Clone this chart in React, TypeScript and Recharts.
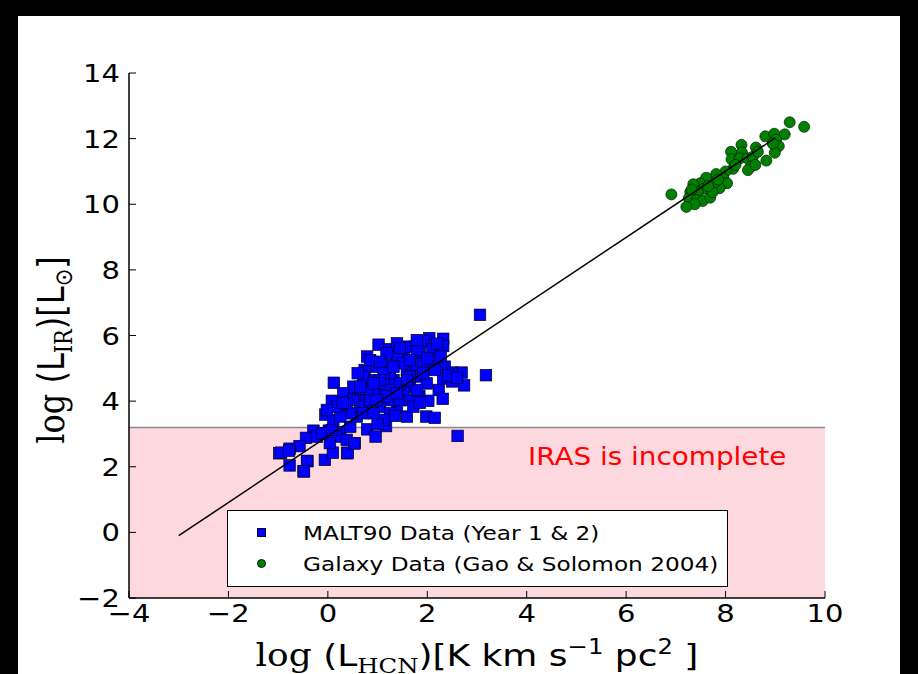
import React from "react";
import {
  ComposedChart,
  Scatter,
  XAxis,
  YAxis,
  ReferenceArea,
  ReferenceLine,
} from "recharts";

// ---------- data ----------
const xTicks = [-4, -2, 0, 2, 4, 6, 8, 10];
const yTicks = [-2, 0, 2, 4, 6, 8, 10, 12, 14];
const irasLimit = 3.2;

const malt90: [number, number][] = [
  [3.06, 6.63], [3.18, 4.79], [2.61, 2.94], [0.12, 4.56], [0.79, 5.36], [1.02, 5.72],
  [1.23, 5.58], [2.04, 5.92], [2.32, 5.9], [2.32, 5.68], [1.92, 5.82], [1.75, 5.66],
  [1.53, 5.48], [2.1, 5.58], [2.11, 5.29], [2.35, 5.05], [2.27, 5.36], [2.69, 4.87],
  [2.5, 4.87], [2.32, 4.69], [2.5, 4.6], [2.74, 4.48], [2.23, 4.34], [2.31, 4.07],
  [1.98, 3.53], [2.15, 3.49], [2.02, 4.01], [1.84, 4.16], [0.74, 4.95], [0.85, 4.64],
  [0.45, 4.22], [0.08, 4.01], [-0.05, 3.59], [0.38, 4.14], [-0.29, 3.1], [-0.44, 2.88],
  [-0.57, 2.63], [-0.77, 2.55], [-0.98, 2.41], [-0.77, 2.04], [-0.49, 1.86], [-0.41, 2.17],
  [-0.06, 2.21], [0.1, 2.43], [0.39, 2.41], [0.54, 2.72], [0.79, 3.14], [0.96, 2.92],
  [1.17, 3.24], [1.39, 3.81], [1.59, 3.53], [1.2, 5.09], [1.39, 5.17], [1.59, 4.95],
  [1.79, 5.09], [1.79, 4.75], [1.99, 4.54], [1.65, 4.42], [1.25, 4.03], [1.05, 4.34],
  [0.65, 4.07], [0.31, 3.73], [0.11, 3.43], [0.02, 3.1], [0.25, 3.06], [0.45, 3.22],
  [0.58, 3.53], [-0.22, 2.92], [-0.09, 3.02], [0.18, 2.92], [0.38, 2.82], [0.04, 2.72],
  [1.32, 4.64], [1.12, 4.54], [1.52, 4.24], [1.39, 5.76], [1.59, 5.66], [1.85, 5.46],
  [1.92, 5.15], [1.39, 5.36], [0.98, 5.05], [0.85, 5.25], [0.71, 4.75], [0.92, 4.24],
  [0.78, 3.93], [1.05, 3.83], [1.25, 3.63], [1.12, 3.43], [1.45, 4.03], [1.65, 4.03],
  [1.72, 3.83], [0.65, 3.83], [0.45, 3.63], [0.25, 3.53], [0.51, 4.44], [0.31, 4.24],
  [0.18, 3.83], [-0.02, 3.73], [0.78, 4.34], [1.25, 4.34], [1.45, 4.54], [1.79, 4.34],
  [1.92, 4.85], [1.65, 4.75], [1.52, 5.15], [1.25, 4.85], [1.12, 4.85], [1.05, 4.64],
  [0.92, 4.54], [0.85, 4.03], [1.18, 4.14], [0.98, 4.03], [0.65, 4.44], [0.51, 4.03],
  [0.38, 3.93], [0.71, 3.63], [0.92, 3.63], [1.39, 4.24], [1.59, 4.64], [1.79, 5.56],
  [1.65, 5.25], [1.18, 5.46], [1.32, 5.05], [1.79, 5.86], [-0.94, 2.43], [-0.78, 2.49],
  [-0.12, 3.02], [0.08, 3.12], [0.4, 2.43], [0.53, 2.71], [-0.42, 2.18], [-0.48, 1.86],
  [2.42, 4.78], [2.6, 4.72], [2.15, 4.95], [2.0, 5.3], [1.45, 5.62], [1.05, 5.2],
  [0.6, 4.85], [0.3, 3.95], [1.0, 3.3], [1.35, 3.55], [1.85, 3.95], [2.2, 5.75],
];

const galaxies: [number, number][] = [
  [9.29, 12.5], [9.58, 12.36], [8.8, 12.07], [8.98, 12.15], [9.19, 12.13], [9.02, 11.97],
  [9.07, 11.77], [8.99, 11.57], [8.82, 11.33], [8.32, 11.81], [8.11, 11.6], [8.12, 11.37],
  [8.33, 11.58], [8.29, 11.4], [8.44, 11.4], [8.61, 11.73], [8.55, 11.45], [8.51, 11.15],
  [8.45, 11.04], [8.15, 11.08], [8.0, 11.0], [7.81, 10.92], [7.96, 10.77], [8.03, 10.64],
  [7.88, 10.49], [7.76, 10.64], [7.61, 10.81], [7.49, 10.64], [7.35, 10.61], [7.56, 10.47],
  [7.44, 10.37], [7.29, 10.37], [7.26, 10.18], [7.42, 10.13], [7.54, 10.1], [7.69, 10.2],
  [7.74, 10.37], [7.38, 10.0], [7.21, 9.92], [6.91, 10.3], [8.95, 11.85], [8.65, 11.6],
  [7.65, 10.55], [8.2, 11.2], [7.85, 10.75], [7.32, 10.45], [8.6, 11.2],
];

const fitLine = [
  { x: -3.0, y: -0.1 },
  { x: 9.0, y: 12.02 },
];

const seriesNames = ["MALT90 Data (Year 1 & 2)", "Galaxy Data (Gao & Solomon 2004)"];
const irasText = "IRAS is incomplete";

// ---------- helpers ----------
const malt90Data = malt90.map(([x, y]) => ({ x, y }));
const galaxyData = galaxies.map(([x, y]) => ({ x, y }));
const fmt = (v: number) => String(v).replace("-", "\u2212");
const SANS = "DejaVu Sans, sans-serif";
const SERIF = "DejaVu Serif, serif";
const STRETCH = 1.16;

const Square = (p: any) => {
  const s = 11.5;
  return (
    <rect x={p.cx - s / 2} y={p.cy - s / 2} width={s} height={s}
      fill="#0000ff" stroke="#000022" strokeWidth={0.7} />
  );
};
const Dot = (p: any) => (
  <circle cx={p.cx} cy={p.cy} r={5.5} fill="#008000" stroke="#001a00" strokeWidth={0.7} />
);
const NoShape = () => <g />;

const XTick = (p: any) => (
  <text transform={`translate(${p.x},${p.y}) scale(${STRETCH},1)`} textAnchor="middle"
    dy="0.76em" fontSize={25} fontFamily={SANS} fill="#000">
    {fmt(p.payload.value)}
  </text>
);
const YTick = (p: any) => (
  <text transform={`translate(${p.x},${p.y}) scale(${STRETCH},1)`} textAnchor="end"
    dy="0.36em" fontSize={25} fontFamily={SANS} fill="#000">
    {fmt(p.payload.value)}
  </text>
);

const stretchBox = (left: number, top: number): React.CSSProperties => ({
  position: "absolute", left, top, whiteSpace: "nowrap",
  transform: `scaleX(${STRETCH})`, transformOrigin: "0 0",
});

export default function App() {
  return (
    <div style={{ position: "absolute", left: 0, top: 0, width: 918, height: 674, background: "#000", overflow: "hidden" }}>
      <div style={{ position: "absolute", left: 18, top: 16, width: 882, height: 658, background: "#fff" }} />
      <div style={{ position: "absolute", left: 0, top: 0 }}>
        <ComposedChart width={918} height={674}
          margin={{ top: 73, right: 93, bottom: 36, left: 69 }}>
          <XAxis xAxisId="b" type="number" dataKey="x" domain={[-4, 10]} ticks={xTicks}
            allowDataOverflow tickSize={-7} tickMargin={12} height={40}
            tick={<XTick />} axisLine={{ stroke: "#000", strokeWidth: 1.5 }}
            tickLine={{ stroke: "#000" }} interval={0}
            label={{
              content: () => (
                <text transform={`translate(477,666) scale(${STRETCH},1)`} textAnchor="middle"
                  fontSize={31} fontFamily={SANS} fill="#000">
                  <tspan fontFamily={SERIF}>log</tspan>
                  <tspan> (L</tspan>
                  <tspan fontFamily={SERIF} fontSize={21} dy={7}>HCN</tspan>
                  <tspan dy={-7}>)[K km s</tspan>
                  <tspan fontSize={21} dy={-12}>{"\u22121"}</tspan>
                  <tspan dy={12}>{"  pc"}</tspan>
                  <tspan fontSize={21} dy={-12}>2</tspan>
                  <tspan dy={12}>{" ]"}</tspan>
                </text>
              ),
            }} />
          <XAxis xAxisId="t" orientation="top" type="number" domain={[-4, 10]} ticks={xTicks}
            allowDataOverflow tickFormatter={() => ""} tickSize={-7} height={0}
            axisLine={{ stroke: "#000", strokeWidth: 1.5 }} tickLine={{ stroke: "#000" }} interval={0} />
          <YAxis yAxisId="l" type="number" dataKey="y" domain={[-2, 14]} ticks={yTicks}
            allowDataOverflow tickSize={-7} tickMargin={16} width={60}
            tick={<YTick />} axisLine={{ stroke: "#000", strokeWidth: 1.5 }}
            tickLine={{ stroke: "#000" }} interval={0}
            label={{
              content: () => (
                <text transform="translate(64,350) rotate(-90) scale(1,1.16)" textAnchor="middle"
                  fontSize={32} fontFamily={SANS} fill="#000">
                  <tspan fontFamily={SERIF}>log</tspan>
                  <tspan> (L</tspan>
                  <tspan fontFamily={SERIF} fontSize={21} dy={7}>IR</tspan>
                  <tspan dy={-7}>)[L</tspan>
                  <tspan fontSize={21} dy={7}>{"\u2299"}</tspan>
                  <tspan dy={-7}>]</tspan>
                </text>
              ),
            }} />
          <YAxis yAxisId="r" orientation="right" type="number" domain={[-2, 14]} ticks={yTicks}
            allowDataOverflow tickFormatter={() => ""} tickSize={-7} width={0}
            axisLine={{ stroke: "#000", strokeWidth: 1.5 }} tickLine={{ stroke: "#000" }} interval={0} />

          <ReferenceArea xAxisId="b" yAxisId="l" y1={-2} y2={irasLimit} fill="#fdd9df" fillOpacity={1}
            stroke="none" ifOverflow="hidden" />
          <ReferenceLine xAxisId="b" yAxisId="l" y={irasLimit} stroke="#8a8a8a" strokeWidth={1.5} />

          <Scatter xAxisId="b" yAxisId="l" name={seriesNames[0]} data={malt90Data} shape={Square}
            isAnimationActive={false} />
          <Scatter xAxisId="b" yAxisId="l" name={seriesNames[1]} data={galaxyData} shape={Dot}
            isAnimationActive={false} />
          <Scatter xAxisId="b" yAxisId="l" data={fitLine} shape={NoShape} line={{ stroke: "#000", strokeWidth: 1.5 }}
            legendType="none" isAnimationActive={false} />
        </ComposedChart>
      </div>

      <div style={{ ...stretchBox(528, 443), fontFamily: SANS, fontSize: 24, color: "#ff0000", lineHeight: "28px" }}>
        {irasText}
      </div>

      <div style={{ position: "absolute", left: 227, top: 510, width: 501, height: 77, boxSizing: "border-box", border: "1.5px solid #000", background: "#fff", fontFamily: SANS, fontSize: 20, color: "#000" }}>
        <div style={{ position: "absolute", left: 29, top: 17, width: 9, height: 9, background: "#0000ff", boxSizing: "border-box", border: "0.5px solid #000033" }} />
        <div style={{ ...stretchBox(75, 7), lineHeight: "30px" }}>{seriesNames[0]}</div>
        <div style={{ position: "absolute", left: 29, top: 48, width: 9, height: 9, borderRadius: "50%", background: "#008000", boxSizing: "border-box", border: "0.5px solid #001a00" }} />
        <div style={{ ...stretchBox(75, 38), lineHeight: "30px" }}>{seriesNames[1]}</div>
      </div>
    </div>
  );
}
